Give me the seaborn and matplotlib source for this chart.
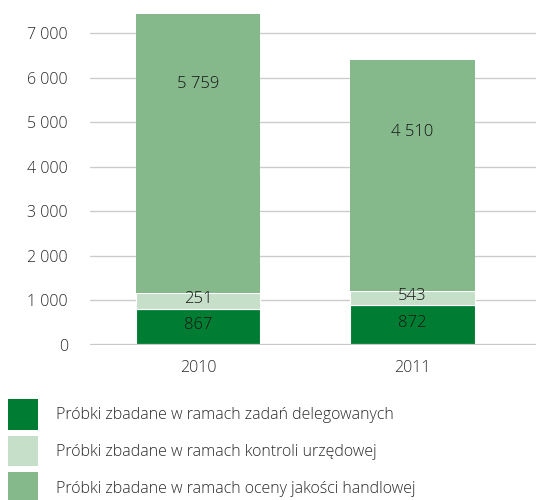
import matplotlib
matplotlib.use("Agg")
import matplotlib.pyplot as plt
import seaborn as sns
import numpy as np
import pandas as pd

# ---- data (bar heights; labels as printed) ----
years = ["2010", "2011"]
delegowane = [800, 904]          # dark green segment
kontrola = [366, 307]            # light green segment
handlowa = [6278, 5179]          # medium green segment
label_delegowane = ["867", "872"]
label_kontrola = ["251", "543"]
label_handlowa = ["5 759", "4 510"]
series_names = [
    "Próbki zbadane w ramach zadań delegowanych",
    "Próbki zbadane w ramach kontroli urzędowej",
    "Próbki zbadane w ramach oceny jakości handlowej",
]
yticks = [0, 1000, 2000, 3000, 4000, 5000, 6000, 7000]
ytick_labels = ["0", "1 000", "2 000", "3 000", "4 000", "5 000", "6 000", "7 000"]

colors = ["#007d32", "#c5dfc8", "#85b88a"]

sns.set_theme(style="white")
plt.rcParams["font.family"] = ["Open Sans", "DejaVu Sans"]
plt.rcParams["font.weight"] = "light"

fig = plt.figure(figsize=(5.36, 5.00), dpi=100)
ax = fig.add_axes([90 / 536, 1 - 345 / 500, 1 - 90 / 536, 345 / 500])

df = pd.DataFrame({"year": years, "d": delegowane, "k": kontrola, "h": handlowa})
bottom_k = np.array(delegowane)
bottom_h = bottom_k + np.array(kontrola)

sns.barplot(data=df, x="year", y="d", color=colors[0], width=0.58, saturation=1,
            edgecolor="white", linewidth=0.8, ax=ax, label=series_names[0], zorder=3)
sns.barplot(data=df, x="year", y="k", bottom=bottom_k, color=colors[1], width=0.58, saturation=1,
            edgecolor="white", linewidth=0.8, ax=ax, label=series_names[1], zorder=3)
sns.barplot(data=df, x="year", y="h", bottom=bottom_h, color=colors[2], width=0.58, saturation=1,
            edgecolor="white", linewidth=0.0, ax=ax, label=series_names[2], zorder=3)

ymax = 345 / ((345 - 33.3) / 7) * 1000
ax.set_ylim(0, ymax)
ax.set_xlim(-0.505, 1.577)

# labels
txt_color = "#151515"
fs = 11.5
handlowa_label_y = [5860, 4780]
for i in range(len(years)):
    ax.text(i, delegowane[i] / 2 + 40, label_delegowane[i], ha="center", va="center",
            fontsize=fs + 0.5, color=txt_color, zorder=5)
    ax.text(i, bottom_k[i] + kontrola[i] / 2 + 40, label_kontrola[i], ha="center", va="center",
            fontsize=fs + 0.5, color=txt_color, zorder=5)
    ax.text(i, handlowa_label_y[i], label_handlowa[i], ha="center", va="center",
            fontsize=fs + 0.5, color=txt_color, zorder=5)

ax.set_yticks(yticks)
ax.set_yticklabels(ytick_labels)
ax.tick_params(axis="y", length=0, pad=16, labelsize=fs, labelcolor="#2a2a2a")
ax.tick_params(axis="x", length=0, pad=11, labelsize=fs, labelcolor="#2a2a2a")
ax.set_xlabel("")
ax.set_ylabel("")

for y in yticks[1:]:
    ax.axhline(y, color="#cccccc", lw=1.0, zorder=1)
ax.axhline(0, color="#c8c8c8", lw=1.6, zorder=4)

for s in ax.spines.values():
    s.set_visible(False)

handles, labels = ax.get_legend_handles_labels()
leg = ax.legend(handles, labels, loc="upper left",
                bbox_to_anchor=(8 / 536, 1 - 399 / 500), bbox_transform=fig.transFigure,
                frameon=False, fontsize=fs, handlelength=1.85, handleheight=2.58,
                handletextpad=1.14, labelspacing=0.375, borderpad=0, borderaxespad=0)
for t in leg.get_texts():
    t.set_color("#2a2a2a")
for h in leg.legend_handles:
    h.set_edgecolor("none")

fig.savefig("out.png", dpi=100)
